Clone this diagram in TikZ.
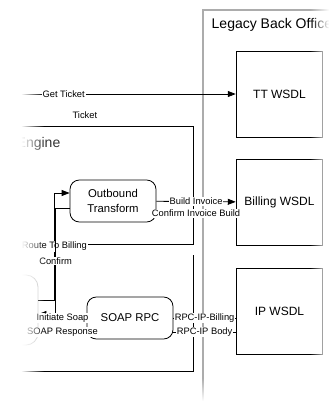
\documentclass[tikz,border=0pt]{standalone}
\usepackage{fontspec}
\setmainfont{Liberation Sans}
\usetikzlibrary{arrows.meta,positioning,fadings}
\tikzfading[name=fadewest, left color=transparent!0, right color=transparent!100]
\tikzfading[name=fadeeast, left color=transparent!100, right color=transparent!0]
\tikzfading[name=fadesouth, top color=transparent!100, bottom color=transparent!0]

\begin{document}
\begin{tikzpicture}[
  x=0.75pt, y=-0.75pt,
  wsdl/.style={draw, line width=0.6pt, minimum width=65pt, minimum height=64.5pt, font=\fontsize{9}{11}\selectfont},
  proc/.style={draw, line width=0.6pt, rounded corners=7pt, align=center, minimum width=64.5pt, minimum height=31.5pt, font=\fontsize{8.5}{11.25}\selectfont},
  lbl/.style={fill=white, inner sep=0.6pt, font=\fontsize{7}{8}\selectfont},
  arr/.style={-{Triangle[length=6pt,width=4.5pt]}, line width=0.6pt},
  conn/.style={line width=0.6pt}
]
\useasboundingbox (0,0) rectangle (329,401);
% containers
\draw[conn] (8,126) rectangle (193,244);
\node[anchor=base west, font=\fontsize{10.5}{12}\selectfont, text=black!80] (engt) at (12,147) {Engine};
\draw[conn] (193,255) -- (193,371) -- (8,371);
\draw[gray!65, line width=1pt] (340,10) -- (203,10) -- (203,410);
\node[anchor=base west, font=\fontsize{10.5}{12}\selectfont] (lbo) at (207,28) {Legacy Back Office};
% services
\node[wsdl] (tt) at (279.5,94) {TT WSDL};
\node[wsdl, below=16pt of tt] (bw) {Billing WSDL};
\node[wsdl, below=16.5pt of bw] (ip) {IP WSDL};
% processes
\node[proc] (ot) at (113,201) {Outbound\\Transform};
\node[proc] (sr) at (130,318) {SOAP RPC};
\node[proc, draw=gray!45, minimum width=45pt, minimum height=52.5pt, rounded corners=9pt] (src) at (8,310) {};
% messages
\coordinate (gtin) at (0,94);
\draw[arr] (gtin) -- (tt) node[lbl, pos=0.27] {Get Ticket} node[lbl, pos=0.36, yshift=-15.75pt] {Ticket};
\draw[arr] (ot) -- (bw) node[lbl, midway] {Build Invoice} node[lbl, midway, yshift=-9pt] {Confirm Invoice Build};
\draw[arr] ([yshift=7.5pt]src.east) -- ++(16,0) |- node[lbl, pos=0.25] {Route To Billing} ([yshift=6pt]ot.west);
\draw[arr] ([yshift=-5.25pt]ot.west) -- ++(-14,0) |- node[lbl, pos=0.25] {Confirm} ([yshift=-3pt]src.east);
\draw[conn] ([yshift=-6pt]src.east) -- (sr.west) node[lbl, midway] {Initiate Soap};
\draw[conn] ([yshift=-10.5pt]sr.west) -- ([yshift=-16.5pt]src.east) node[lbl, midway] {SOAP Response};
\draw[conn] (sr.east) -- (sr.east -| ip.west) node[lbl, midway] {RPC-IP-Billing};
\draw[conn] ([yshift=-10.5pt]sr.east) -- ([yshift=-10.5pt]sr.east -| ip.west) node[lbl, midway] {RPC-IP Body};
% faded edges
\fill[white] (-40,-10) rectangle (21,420);
\fill[white, path fading=fadewest] (21,-10) rectangle (44,420);
\fill[white, path fading=fadeeast] (310,-10) rectangle (329,420);
\fill[white, path fading=fadesouth] (-10,378) rectangle (340,401);
\end{tikzpicture}
\end{document}
